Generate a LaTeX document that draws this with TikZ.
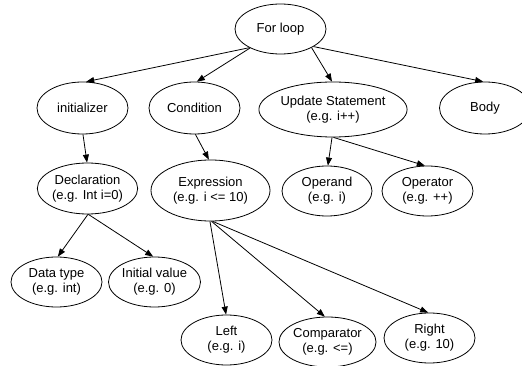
\documentclass[tikz,border=0pt]{standalone}
\usepackage{fontspec}
\setmainfont{Liberation Sans}
\usetikzlibrary{arrows.meta,shapes.geometric}
\begin{document}
\begin{tikzpicture}[x=1pt,y=-1pt,
  every node/.style={font=\fontsize{13}{15}\selectfont},
  oval/.style={draw, ellipse, line width=0.8pt, inner sep=0pt, align=center,
               minimum width=91pt, minimum height=50pt},
  wideoval/.style={oval, minimum width=120pt, minimum height=56pt},
  edge/.style={line width=0.8pt, -{Triangle[length=8pt,width=6pt]}}]
\clip (0,0) rectangle (522,366);
\useasboundingbox (0,0) rectangle (522,366);

% tree nodes
\node[oval] (root) at (280.5,29) {For loop};
\node[oval, minimum height=52pt] (init) at (82.5,108) {initializer};
\node[oval, minimum height=52pt] (cond) at (194.5,108) {Condition};
\node[wideoval, minimum height=55pt] (upd) at (333,109.5) {Update Statement\\(e.g. i++)};
\node[oval, minimum height=52pt] (body) at (485,108) {Body};

\node[oval, minimum height=51pt] (decl) at (87.5,188.5) {Declaration\\(e.g. Int i=0)};
\node[wideoval, minimum width=119pt, minimum height=61pt] (expr) at (210.5,190.5) {Expression\\(e.g. i <= 10)};
\node[oval, minimum width=90pt] (opnd) at (327,191) {Operand\\(e.g. i)};
\node[oval] (optr) at (427.5,191) {Operator\\(e.g. ++)};

\node[oval] (dtype) at (56.5,282) {Data type\\(e.g. int)};
\node[oval] (ival) at (154.5,282) {Initial value\\(e.g. 0)};

\node[oval] (left) at (226.5,340) {Left\\(e.g. i)};
\node[oval] (comp) at (327.5,342) {Comparator\\(e.g. <=)};
\node[oval] (right) at (429.5,338) {Right\\(e.g. 10)};

% connectors
\draw[edge] (root.211) -- (init.82);
\draw[edge] (root.212) -- (cond.85);
\draw[edge] (root.329) -- (upd.92);
\draw[edge] (root.332) -- (body.94);

\draw[edge] (init.271) -- (decl.91);
\draw[edge] (cond.272) -- (expr.93);
\draw[edge] (upd.268) -- (opnd.88);
\draw[edge] (upd.271) -- (optr.96);

\draw[edge] (decl.271) -- (dtype.87);
\draw[edge] (decl.272) -- (ival.93);

\draw[edge] (expr.269) -- (left.91);
\draw[edge] (expr.272) -- (comp.96);
\draw[edge] (expr.274) -- (right.93);
\end{tikzpicture}
\end{document}
